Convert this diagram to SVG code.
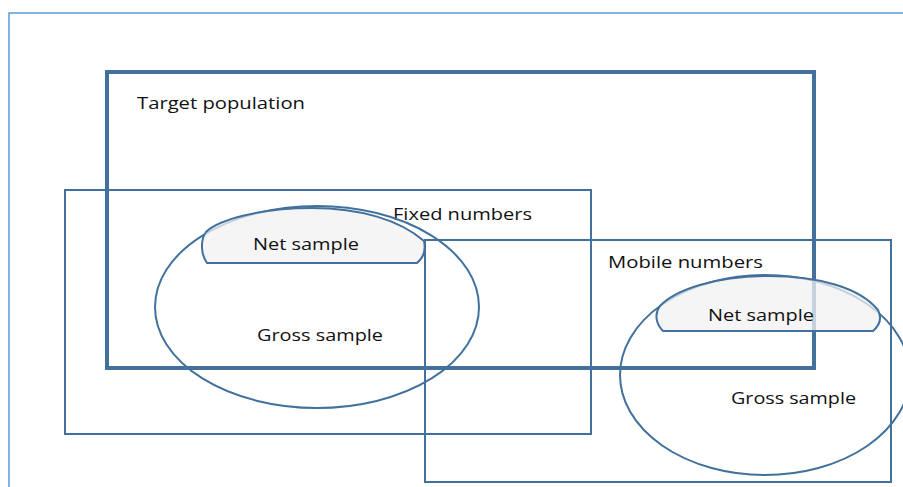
<svg xmlns="http://www.w3.org/2000/svg" width="903" height="487" viewBox="0 0 903 487">
<style>
.frame{fill:none;stroke:#5B9BD5;stroke-width:1.5}
.box{fill:none;stroke:#41719C;stroke-width:2}
.target{fill:none;stroke:#41719C;stroke-width:4}
.ell{fill:none;stroke:#41719C;stroke-width:2}
.net{fill:#F2F2F2;fill-opacity:0.75;stroke:#41719C;stroke-width:2}
.lbl{font-family:"Open Sans","Liberation Sans",sans-serif;font-size:17px;fill:#111}
</style>
<rect width="903" height="487" fill="#fff"/>
<g id="frame"><path class="frame" d="M9,487 L9,13 L903,13"/></g>
<g id="fixed-numbers">
<rect class="box" x="65" y="190" width="526" height="244"/>
<text class="lbl" x="393" y="220" textLength="139" lengthAdjust="spacingAndGlyphs">Fixed numbers</text>
</g>
<g id="mobile-numbers">
<rect class="box" x="425" y="240" width="466" height="242"/>
<text class="lbl" x="608" y="268" textLength="155" lengthAdjust="spacingAndGlyphs">Mobile numbers</text>
</g>
<g id="gross-sample-fixed">
<ellipse class="ell" cx="317" cy="307" rx="162" ry="101"/>
<text class="lbl" x="257" y="341" textLength="126" lengthAdjust="spacingAndGlyphs">Gross sample</text>
</g>
<g id="gross-sample-mobile">
<ellipse class="ell" cx="765" cy="375" rx="145" ry="100"/>
<text class="lbl" x="731" y="404" textLength="125" lengthAdjust="spacingAndGlyphs">Gross sample</text>
</g>
<g id="target-population">
<rect class="target" x="107" y="72" width="707" height="296"/>
<text class="lbl" x="137" y="109" textLength="168" lengthAdjust="spacingAndGlyphs">Target population</text>
</g>
<g id="net-sample-fixed">
<path class="net" d="M207,263 L417,263 C423,258 426,250 424,241 C400,220 360,208 312,208 C260,208 218,220 206,232 C200,240 201,255 207,263 Z"/>
<text class="lbl" x="253" y="250" textLength="106" lengthAdjust="spacingAndGlyphs">Net sample</text>
</g>
<g id="net-sample-mobile">
<path class="net" d="M663,331 L873,331 C880,325 882,318 878,310 C860,288 820,276 768,276 C715,276 675,290 660,306 C654,314 656,324 663,331 Z"/>
<text class="lbl" x="708" y="321" textLength="106" lengthAdjust="spacingAndGlyphs">Net sample</text>
</g>
<g id="connectors"></g>
</svg>
